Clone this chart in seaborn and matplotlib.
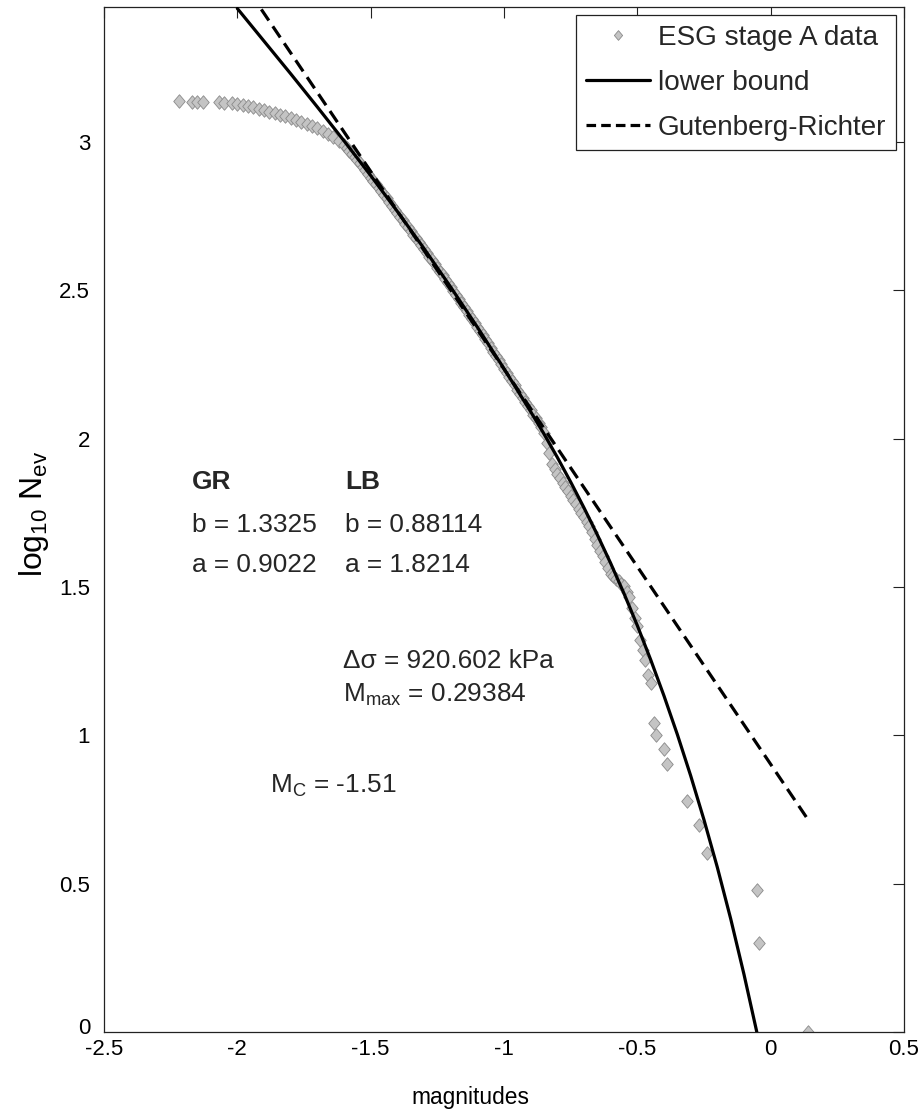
import numpy as np
import pandas as pd
import matplotlib
matplotlib.use("Agg")
import matplotlib.pyplot as plt
from matplotlib import font_manager as fm
from matplotlib.path import Path
from matplotlib.lines import Line2D
from matplotlib.transforms import ScaledTranslation
import seaborn as sns

# ---------------- data ----------------
data_mag = [-2.22, -2.17, -2.15, -2.13, -2.07, -2.05, -2.02,
            -2.00, -1.98, -1.96, -1.94, -1.92, -1.90, -1.88, -1.86, -1.84, -1.82,
            -1.80, -1.78, -1.76, -1.74, -1.72, -1.70, -1.68, -1.66, -1.64, -1.62,
            -1.60, -1.59, -1.58, -1.57, -1.56, -1.55, -1.54, -1.53, -1.52, -1.51,
            -1.50, -1.49, -1.48, -1.47, -1.46, -1.45, -1.44, -1.43, -1.42, -1.41,
            -1.40, -1.39, -1.38, -1.37, -1.36, -1.35, -1.34, -1.33, -1.32, -1.31,
            -1.30, -1.29, -1.28, -1.27, -1.26, -1.25, -1.24, -1.23, -1.22, -1.21,
            -1.20, -1.19, -1.18, -1.17, -1.16, -1.15, -1.14, -1.13, -1.12, -1.11,
            -1.10, -1.09, -1.08, -1.07, -1.06, -1.05, -1.04, -1.03, -1.02, -1.01,
            -1.00, -0.99, -0.98, -0.97, -0.96, -0.95, -0.94, -0.93, -0.92, -0.91,
            -0.90, -0.89, -0.88, -0.87, -0.86, -0.85, -0.84, -0.83, -0.82, -0.81,
            -0.80, -0.79, -0.78, -0.77, -0.76, -0.75, -0.74, -0.73, -0.72, -0.71,
            -0.70, -0.69, -0.68, -0.67, -0.66, -0.65, -0.64, -0.63, -0.62, -0.61,
            -0.60, -0.59, -0.58, -0.57, -0.56, -0.55, -0.54, -0.53, -0.52, -0.51,
            -0.50, -0.49, -0.48, -0.47, -0.46, -0.45,
            -0.437, -0.43, -0.40, -0.39, -0.315, -0.27, -0.24, -0.05, -0.045, 0.14]
data_logn = [3.137, 3.136, 3.136, 3.135, 3.134, 3.133, 3.131,
             3.128, 3.125, 3.121, 3.117, 3.112, 3.107, 3.102, 3.097, 3.092, 3.087,
             3.081, 3.075, 3.068, 3.061, 3.054, 3.047, 3.038, 3.028, 3.018, 3.005,
             2.990, 2.980, 2.970, 2.960, 2.950, 2.940, 2.928, 2.916, 2.904, 2.892,
             2.880, 2.868, 2.857, 2.845, 2.834, 2.822, 2.810, 2.797, 2.785, 2.772,
             2.760, 2.748, 2.736, 2.724, 2.712, 2.700, 2.688, 2.676, 2.664, 2.652,
             2.640, 2.627, 2.614, 2.602, 2.589, 2.576, 2.563, 2.550, 2.538, 2.525,
             2.512, 2.498, 2.485, 2.471, 2.458, 2.444, 2.431, 2.417, 2.404, 2.390,
             2.377, 2.363, 2.349, 2.335, 2.321, 2.306, 2.292, 2.278, 2.264, 2.250,
             2.236, 2.222, 2.208, 2.194, 2.180, 2.165, 2.151, 2.137, 2.123, 2.109,
             2.095, 2.081, 2.068, 2.054, 2.040, 2.020, 1.985, 1.950, 1.915, 1.899,
             1.882, 1.866, 1.850, 1.836, 1.822, 1.808, 1.794, 1.779, 1.764, 1.750,
             1.735, 1.720, 1.704, 1.684, 1.663, 1.643, 1.623, 1.603, 1.584, 1.564,
             1.545, 1.536, 1.528, 1.519, 1.511, 1.502, 1.484, 1.465, 1.428, 1.397,
             1.370, 1.320, 1.288, 1.255, 1.204, 1.176,
             1.041, 1.000, 0.954, 0.903, 0.778, 0.699, 0.602, 0.477, 0.301, 0.000]

lb_mag = [-2.00, -1.90, -1.80, -1.70, -1.60, -1.50, -1.40, -1.30, -1.20, -1.10,
          -1.00, -0.90, -0.85, -0.80, -0.75, -0.70, -0.65, -0.60, -0.55, -0.50,
          -0.45, -0.40, -0.35, -0.30, -0.25, -0.20, -0.15, -0.10, -0.052]
lb_logn = [3.450, 3.340, 3.230, 3.118, 3.004, 2.887, 2.766, 2.641, 2.511, 2.376,
           2.236, 2.091, 2.016, 1.937, 1.854, 1.767, 1.676, 1.580, 1.478, 1.370,
           1.255, 1.133, 1.003, 0.864, 0.715, 0.555, 0.382, 0.194, 0.000]

gr_mag = [-1.91, 0.14]
gr_logn = [3.447, 0.716]

legend_labels = ["ESG stage A data", "lower bound", "Gutenberg-Richter"]
xticks = [-2.5, -2, -1.5, -1, -0.5, 0, 0.5]
yticks = [0, 0.5, 1, 1.5, 2, 2.5, 3]

# ---------------- style ----------------
sns.set_theme(style="white")
names = {f.name for f in fm.fontManager.ttflist}
if "Liberation Sans Narrow" in names:
    FONT, K = "Liberation Sans Narrow", 1.0
else:
    FONT, K = "Liberation Sans", 0.82
plt.rcParams["font.family"] = [FONT, "Liberation Sans", "DejaVu Sans"]
plt.rcParams["mathtext.fontset"] = "custom"
plt.rcParams["mathtext.rm"] = FONT
plt.rcParams["mathtext.it"] = FONT
plt.rcParams["mathtext.bf"] = FONT + ":bold"

TICK_FS = 19.5 * K
TEXT_FS = 23 * K
LEG_FS = 24.5 * K
LAB_FS = 20 * K
YLAB_FS = 28 * K

fig = plt.figure(figsize=(9.23, 11.15), dpi=100)
ax = fig.add_axes([104 / 923, 1 - 1032 / 1115, 800 / 923, 1025 / 1115])

df_data = pd.DataFrame({"m": data_mag, "n": data_logn})
df_lb = pd.DataFrame({"m": lb_mag, "n": lb_logn})
df_gr = pd.DataFrame({"m": gr_mag, "n": gr_logn})

diamond = Path([(0, 1), (0.85, 0), (0, -1), (-0.85, 0), (0, 1)],
               [Path.MOVETO, Path.LINETO, Path.LINETO, Path.LINETO, Path.CLOSEPOLY])

sns.scatterplot(data=df_data, x="m", y="n", ax=ax, marker=diamond, s=95,
                color="#c4c4c4", edgecolor="#8a8a8a", linewidth=0.6,
                legend=False, zorder=2)
sns.lineplot(data=df_lb, x="m", y="n", ax=ax, sort=False, estimator=None,
             color="black", linewidth=2.3, legend=False, zorder=3)
sns.lineplot(data=df_gr, x="m", y="n", ax=ax, sort=False, estimator=None,
             color="black", linewidth=2.3, legend=False, zorder=3)
ax.lines[-1].set_dashes((4.2, 2.2))

ax.set_xlim(-2.5, 0.5)
ax.set_ylim(0, 3.455)
ax.set_xticks(xticks)
ax.set_xticklabels(["-2.5", "-2", "-1.5", "-1", "-0.5", "0", "0.5"])
ax.set_yticks(yticks)
ax.set_yticklabels(["0", "0.5", "1", "1.5", "2", "2.5", "3"])
ax.tick_params(axis="both", direction="in", length=8, width=0.8, color="#222222",
               top=True, right=True, labelsize=TICK_FS, labelcolor="black")
ax.tick_params(axis="x", pad=5)
ax.tick_params(axis="y", pad=10)
for sp in ax.spines.values():
    sp.set_visible(True)
    sp.set_color("#222222")
    sp.set_linewidth(0.9)

# nudge the "0" y tick label up a little so it does not collide with "-2.5"
zero_lab = ax.get_yticklabels()[0]
zero_lab.set_transform(zero_lab.get_transform() +
                       ScaledTranslation(0, 4 / 72, fig.dpi_scale_trans))

ax.set_xlabel("magnitudes", fontsize=LAB_FS, color="black")
ax.set_ylabel(r"$\mathregular{log_{10}\ N_{ev}}$", fontsize=YLAB_FS, color="black")
ax.xaxis.set_label_coords(0.4575, -0.053)
ax.yaxis.set_label_coords(-0.066, 0.505)

# annotations
ax.text(-2.170, 1.831, "GR", fontsize=TEXT_FS, fontweight="bold", va="baseline")
ax.text(-1.596, 1.831, "LB", fontsize=TEXT_FS, fontweight="bold", va="baseline")
ax.text(-2.170, 1.684, "b = 1.3325", fontsize=TEXT_FS, va="baseline")
ax.text(-1.596, 1.684, "b = 0.88114", fontsize=TEXT_FS, va="baseline")
ax.text(-2.170, 1.552, "a = 0.9022", fontsize=TEXT_FS, va="baseline")
ax.text(-1.596, 1.552, "a = 1.8214", fontsize=TEXT_FS, va="baseline")
ax.text(-1.604, 1.228, "\u0394\u03c3 = 920.602 kPa", fontsize=TEXT_FS, va="baseline")
ax.text(-1.604, 1.113, r"M$_{\mathregular{max}}$ = 0.29384", fontsize=TEXT_FS, va="baseline")
ax.text(-1.876, 0.807, r"M$_{\mathregular{C}}$ = -1.51", fontsize=TEXT_FS, va="baseline")

handles = [
    Line2D([], [], linestyle="none", marker=diamond, markersize=7,
           markerfacecolor="#c4c4c4", markeredgecolor="#8a8a8a", markeredgewidth=0.6),
    Line2D([], [], color="black", linewidth=2.3),
    Line2D([], [], color="black", linewidth=2.3, dashes=(3.0, 1.6)),
]
leg = ax.legend(handles, legend_labels, loc="upper right", fontsize=LEG_FS,
                frameon=True, fancybox=False, framealpha=1, edgecolor="#222222",
                borderpad=0.34, borderaxespad=0.3, handlelength=2.3,
                handletextpad=0.28, labelspacing=0.68)
leg.get_frame().set_linewidth(0.9)

fig.savefig("out.png", dpi=100)
